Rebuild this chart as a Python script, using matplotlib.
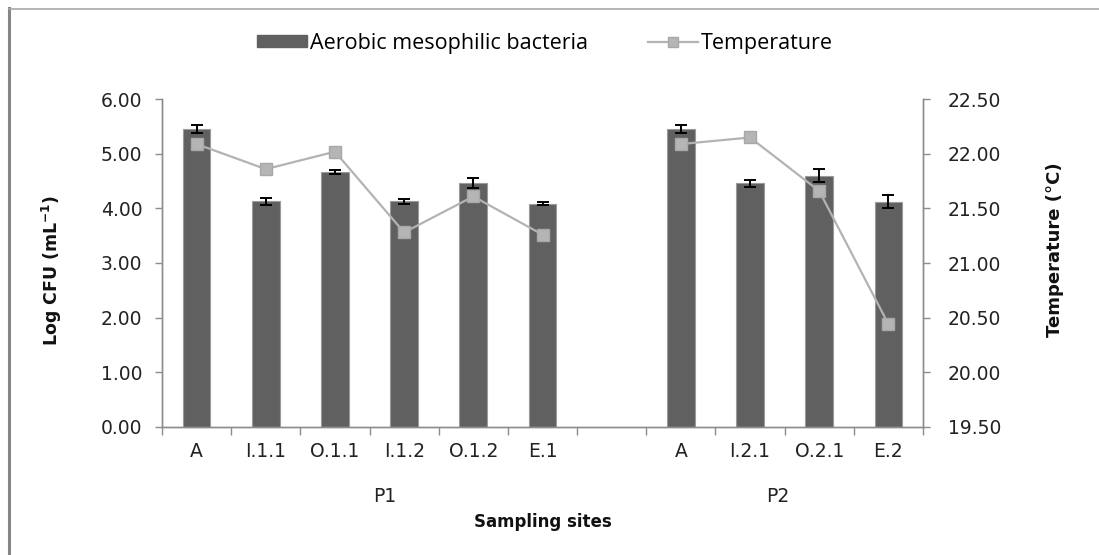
import numpy as np
import matplotlib
matplotlib.use("Agg")
import matplotlib.pyplot as plt
from matplotlib.lines import Line2D
from matplotlib.patches import Patch

# ---- data ----
sites = ['A', 'I.1.1', 'O.1.1', 'I.1.2', 'O.1.2', 'E.1', '', 'A', 'I.2.1', 'O.2.1', 'E.2']
bacteria = [5.46, 4.13, 4.67, 4.13, 4.46, 4.09, np.nan, 5.46, 4.46, 4.60, 4.12]
bacteria_err = [0.07, 0.065, 0.04, 0.05, 0.09, 0.02, np.nan, 0.07, 0.06, 0.12, 0.12]
temperature = [22.09, 21.86, 22.02, 21.28, 21.61, 21.26, np.nan, 22.09, 22.15, 21.66, 20.44]
groups = ['P1', 'P2']
group_pos = [2.72, 8.4]
left_ticks = [0, 1, 2, 3, 4, 5, 6]
right_ticks = [19.5, 20.0, 20.5, 21.0, 21.5, 22.0, 22.5]

W, H = 1099, 555
fig = plt.figure(figsize=(W / 100, H / 100), dpi=100)
fig.patch.set_facecolor('white')

x0, x1, ytop, ybot = 162, 923, 99.3, 426.7
ax = fig.add_axes([x0 / W, 1 - ybot / H, (x1 - x0) / W, (ybot - ytop) / H])
x = np.arange(len(sites))

bar_color = '#606060'
ax.bar(x, bacteria, width=0.4, color=bar_color, edgecolor='#9a9a9a', linewidth=0.8, zorder=2)
ax.errorbar(x, bacteria, yerr=bacteria_err, fmt='none', ecolor='black',
            elinewidth=1.4, capsize=4, capthick=1.4, zorder=3)
ax.set_ylim(0, 6)
ax.set_xlim(-0.5, len(sites) - 0.5)
ax.set_yticks(left_ticks)
ax.set_yticklabels([f'{v:.2f}' for v in left_ticks])

ax2 = ax.twinx()
ax2.plot(x, temperature, color='#b3b3b3', linewidth=1.6, marker='s', markersize=8.5,
         markerfacecolor='#b5b5b5', markeredgecolor='#a8a8a8', zorder=4)
ax2.set_ylim(19.5, 22.5)
ax2.set_yticks(right_ticks)
ax2.set_yticklabels([f'{v:.2f}' for v in right_ticks])

TS = 13.5
spine_c = '#8c8c8c'
for a, pad in ((ax, 9), (ax2, 13)):
    for s in a.spines.values():
        s.set_color(spine_c)
        s.set_linewidth(1.0)
    a.spines['top'].set_visible(False)
    a.tick_params(axis='y', colors=spine_c, length=5, width=1.0, labelcolor='#222222', pad=pad)
    for lab in a.get_yticklabels():
        lab.set_fontfamily('DejaVu Sans')
        lab.set_fontsize(TS)

ax.set_xticks(x)
ax.set_xticklabels(sites, fontfamily='DejaVu Sans', fontsize=TS, color='#222222')
ax.set_xticks(np.arange(-0.5, len(sites), 1), minor=True)
ax.tick_params(axis='x', which='major', length=0, pad=11)
ax.tick_params(axis='x', which='minor', length=6, width=1.0, color=spine_c)

# group labels
for g, p in zip(groups, group_pos):
    ax.text(p, -(496 - ybot) / (ybot - ytop), g, transform=ax.get_xaxis_transform(),
            ha='center', va='center', fontsize=TS, fontfamily='DejaVu Sans', color='#222222')

fig.text((x0 + x1) / 2 / W, 1 - 522 / H, 'Sampling sites', ha='center', va='center',
         fontsize=12, fontweight='bold', fontfamily='DejaVu Sans', color='#111111')
fig.text(52 / W, 1 - 270 / H, 'Log CFU (mL$^{\\mathbf{-1}}$)', rotation=90, ha='center', va='center',
         fontsize=12.5, fontweight='bold', fontfamily='DejaVu Sans', color='#111111')
fig.text(1055 / W, 1 - 250 / H, 'Temperature (°C)', rotation=90, ha='center', va='center',
         fontsize=13, fontweight='bold', fontfamily='DejaVu Sans', color='#111111')

# legend
handles = [Patch(facecolor=bar_color, edgecolor=bar_color),
           Line2D([0], [0], color='#b3b3b3', linewidth=1.6, marker='s', markersize=7,
                  markerfacecolor='#b5b5b5', markeredgecolor='#a8a8a8')]
leg = fig.legend(handles, ['Aerobic mesophilic bacteria', 'Temperature'], loc='center',
                 bbox_to_anchor=(545 / W, 1 - 43 / H), ncol=2, frameon=False,
                 prop=dict(family='Open Sans', size=15.5), handlelength=2.3, handleheight=0.45,
                 handletextpad=0.15, columnspacing=2.8)

# outer frame (partial, as in the reference)
fig.add_artist(Line2D([8.5 / W, 8.5 / W], [0, 1 - 8 / H], color='#858585', linewidth=2.2,
                      transform=fig.transFigure))
fig.add_artist(Line2D([8.5 / W, 1], [1 - 8.5 / H, 1 - 8.5 / H], color='#a8a8a8', linewidth=1.2,
                      transform=fig.transFigure))

fig.savefig('out.png', dpi=100, facecolor='white')
